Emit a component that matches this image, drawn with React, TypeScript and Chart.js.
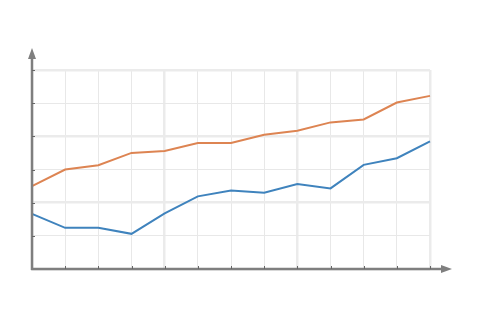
import React, { useEffect, useRef } from "react";
import { Chart, registerables } from "chart.js";

Chart.register(...registerables);

const categories = ["1", "2", "3", "4", "5", "6", "7", "8", "9", "10", "11", "12", "13"];
const orangeSeries = [25.0, 30.0, 31.3, 35.0, 35.6, 38.0, 38.0, 40.5, 41.7, 44.2, 45.1, 50.2, 52.2];
const blueSeries = [16.6, 12.4, 12.4, 10.6, 16.8, 21.9, 23.7, 23.0, 25.6, 24.3, 31.4, 33.4, 38.5];
const yMin = 0;
const yMax = 60;
const yStep = 10;

const axisPlugin = {
  id: "arrowAxes",
  afterDatasetsDraw(chart: any) {
    const { ctx, chartArea, scales } = chart;
    const x = scales.x;
    const y = scales.y;
    const x0 = x.getPixelForValue(0);
    const y0 = y.getPixelForValue(yMin);
    ctx.save();
    ctx.strokeStyle = "#7f7f7f";
    ctx.fillStyle = "#7f7f7f";
    ctx.lineWidth = 2.5;
    ctx.beginPath();
    ctx.moveTo(x0, y0 + 1);
    ctx.lineTo(x0, chartArea.top - 12);
    ctx.stroke();
    ctx.beginPath();
    ctx.moveTo(x0 - 1, y0);
    ctx.lineTo(chartArea.right + 13, y0);
    ctx.stroke();
    ctx.beginPath();
    ctx.moveTo(x0, chartArea.top - 22);
    ctx.lineTo(x0 - 4, chartArea.top - 11);
    ctx.lineTo(x0 + 4, chartArea.top - 11);
    ctx.closePath();
    ctx.fill();
    ctx.beginPath();
    ctx.moveTo(chartArea.right + 22, y0);
    ctx.lineTo(chartArea.right + 11, y0 - 4);
    ctx.lineTo(chartArea.right + 11, y0 + 4);
    ctx.closePath();
    ctx.fill();
    ctx.strokeStyle = "#666666";
    ctx.lineWidth = 1;
    for (let v = yMin + yStep; v <= yMax; v += yStep) {
      const py = Math.round(y.getPixelForValue(v)) + 0.5;
      ctx.beginPath();
      ctx.moveTo(x0, py);
      ctx.lineTo(x0 + 3, py);
      ctx.stroke();
    }
    for (let i = 1; i < categories.length; i++) {
      const px = Math.round(x.getPixelForValue(i)) + 0.5;
      ctx.beginPath();
      ctx.moveTo(px, y0);
      ctx.lineTo(px, y0 - 3);
      ctx.stroke();
    }
    ctx.restore();
  },
};

export default function App() {
  const ref = useRef<HTMLCanvasElement>(null);
  useEffect(() => {
    if (!ref.current) return;
    const chart = new Chart(ref.current, {
      type: "line",
      data: {
        labels: categories,
        datasets: [
          {
            data: orangeSeries,
            borderColor: "#dd8452",
            borderWidth: 2,
            pointRadius: 0,
            tension: 0,
          },
          {
            data: blueSeries,
            borderColor: "#3f83bd",
            borderWidth: 2,
            pointRadius: 0,
            tension: 0,
          },
        ],
      },
      options: {
        responsive: false,
        animation: false,
        layout: { padding: { top: 70, left: 32, right: 50, bottom: 52 } },
        plugins: { legend: { display: false }, tooltip: { enabled: false } },
        scales: {
          x: {
            offset: false,
            border: { display: false },
            ticks: { display: false },
            grid: {
              drawTicks: false,
              color: (c: any) => (c.index % 4 === 0 ? "#ebebeb" : "#e8e8e8"),
              lineWidth: (c: any) => (c.index % 4 === 0 ? 2.5 : 1),
            },
          },
          y: {
            min: yMin,
            max: yMax,
            border: { display: false },
            ticks: { display: false, stepSize: yStep },
            grid: {
              drawTicks: false,
              color: (c: any) => (c.index % 2 === 0 ? "#ebebeb" : "#e8e8e8"),
              lineWidth: (c: any) => (c.index % 2 === 0 ? 2.5 : 1),
            },
          },
        },
      },
      plugins: [axisPlugin],
    });
    return () => chart.destroy();
  }, []);
  return (
    <div style={{ position: "fixed", left: 0, top: 0, width: 480, height: 321, background: "#fff" }}>
      <canvas ref={ref} width={480} height={321} />
    </div>
  );
}
